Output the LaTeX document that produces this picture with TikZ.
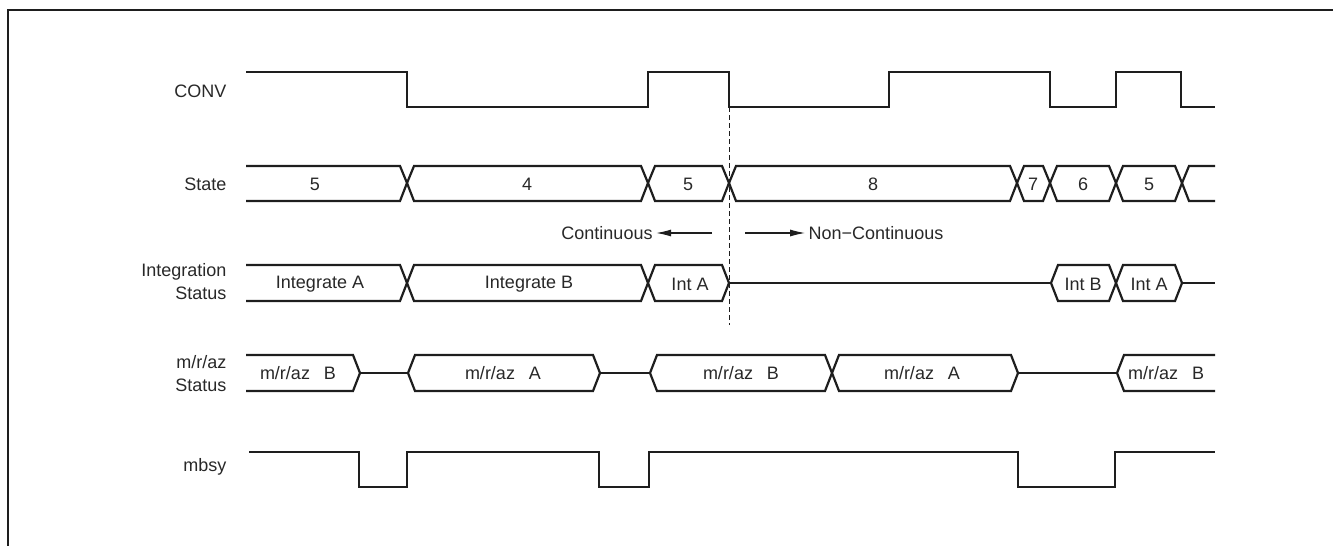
\documentclass[tikz,border=0pt]{standalone}
\usepackage{fontspec}
\setmainfont{Liberation Sans}
\usetikzlibrary{arrows.meta}
\definecolor{wireblack}{RGB}{30,30,30}
\definecolor{textgray}{RGB}{40,40,40}

\newcommand{\mrazlbl}[1]{m/r/az\hspace{14pt}#1}

\begin{document}
\begin{tikzpicture}[x=1pt, y=-1pt,
    wire/.style={wireblack, line width=2.2pt},
    sig/.style={textgray, font=\fontsize{18}{23}\selectfont},
    rowname/.style={sig, anchor=east, align=right},
    arrowline/.style={wireblack, line width=1.2pt, -{Latex[length=15pt,width=7pt]}}]
    \useasboundingbox (0,0) rectangle (1333,546);

    % Frame
    \draw[wire] (8,546) -- (8,10) -- (1333,10);

    % Row names
    \node[rowname] (conv) at (230,91) {CONV};
    \node[rowname] (state) at (230,184) {State};
    \node[rowname] (integ) at (230,282) {Integration\\Status};
    \node[rowname] (mraz) at (230,374) {m/r/az\\Status};
    \node[rowname] (mbsy) at (230,467) {mbsy};

    % CONV
    \draw[wire] (246,72) -- (407,72) -- (407,107) -- (648,107) -- (648,72)
        -- (729,72) -- (729,107) -- (889,107) -- (889,72) -- (1050,72)
        -- (1050,107) -- (1116,107) -- (1116,72) -- (1181,72) -- (1181,107)
        -- (1215,107);

    % State bus
    \draw[wire] (246,166) -- (400,166) -- (407,183) -- (400,201) -- (246,201);
    \foreach \a/\b in {407/648, 648/729, 729/1017, 1017/1050, 1050/1116, 1116/1182}
        \draw[wire] (\a,183) -- (\a+7,166) -- (\b-7,166) -- (\b,183)
            -- (\b-7,201) -- (\a+7,201) -- cycle;
    \draw[wire] (1215,166) -- (1189,166) -- (1182,183) -- (1189,201) -- (1215,201);
    \node[sig] (st1) at (315,184) {5};
    \foreach \x/\txt [count=\i from 2] in {527/4, 688/5, 873/8, 1033/7, 1083/6, 1149/5}
        \node[sig] (st\i) at (\x,184) {\txt};

    % Continuous / Non-Continuous
    \node[sig] (cont) at (607,233) {Continuous};
    \node[sig] (noncont) at (876,233) {Non−Continuous};
    \coordinate (contTail) at (712,233);
    \coordinate (noncontTail) at (745,233);
    \draw[arrowline] (contTail) -- (cont.east);
    \draw[arrowline] (noncontTail) -- (noncont.west);
    \draw[wireblack, line width=1pt, dash pattern=on 5pt off 3pt] (729,107) -- (729,325);

    % Integration Status
    \draw[wire] (246,265) -- (400,265) -- (407,283) -- (400,301) -- (246,301);
    \foreach \a/\b in {407/648, 648/729, 1051/1116, 1116/1182}
        \draw[wire] (\a,283) -- (\a+7,265) -- (\b-7,265) -- (\b,283)
            -- (\b-7,301) -- (\a+7,301) -- cycle;
    \draw[wire] (729,283) -- (1051,283);
    \draw[wire] (1182,283) -- (1215,283);
    \node[sig] (int1) at (320,284) {Integrate A};
    \node[sig] (int2) at (529,284) {Integrate B};
    \node[sig] (int3) at (690,284) {Int A};
    \node[sig] (int4) at (1083,284) {Int B};
    \node[sig] (int5) at (1149,284) {Int A};

    % m/r/az Status
    \draw[wire] (246,355) -- (353,355) -- (360,373) -- (353,391) -- (246,391);
    \foreach \a/\b in {408/600, 650/832, 832/1018}
        \draw[wire] (\a,373) -- (\a+7,355) -- (\b-7,355) -- (\b,373)
            -- (\b-7,391) -- (\a+7,391) -- cycle;
    \draw[wire] (360,373) -- (408,373);
    \draw[wire] (600,373) -- (650,373);
    \draw[wire] (1018,373) -- (1117,373);
    \draw[wire] (1215,355) -- (1124,355) -- (1117,373) -- (1124,391) -- (1215,391);
    \node[sig] (mr1) at (298,373) {\mrazlbl{B}};
    \node[sig] (mr2) at (503,373) {\mrazlbl{A}};
    \node[sig] (mr3) at (741,373) {\mrazlbl{B}};
    \node[sig] (mr4) at (922,373) {\mrazlbl{A}};
    \node[sig] (mr5) at (1166,373) {\mrazlbl{B}};

    % mbsy
    \draw[wire] (249,452) -- (359,452) -- (359,487) -- (407,487) -- (407,452)
        -- (599,452) -- (599,487) -- (649,487) -- (649,452) -- (1018,452)
        -- (1018,487) -- (1115,487) -- (1115,452) -- (1215,452);
\end{tikzpicture}
\end{document}
